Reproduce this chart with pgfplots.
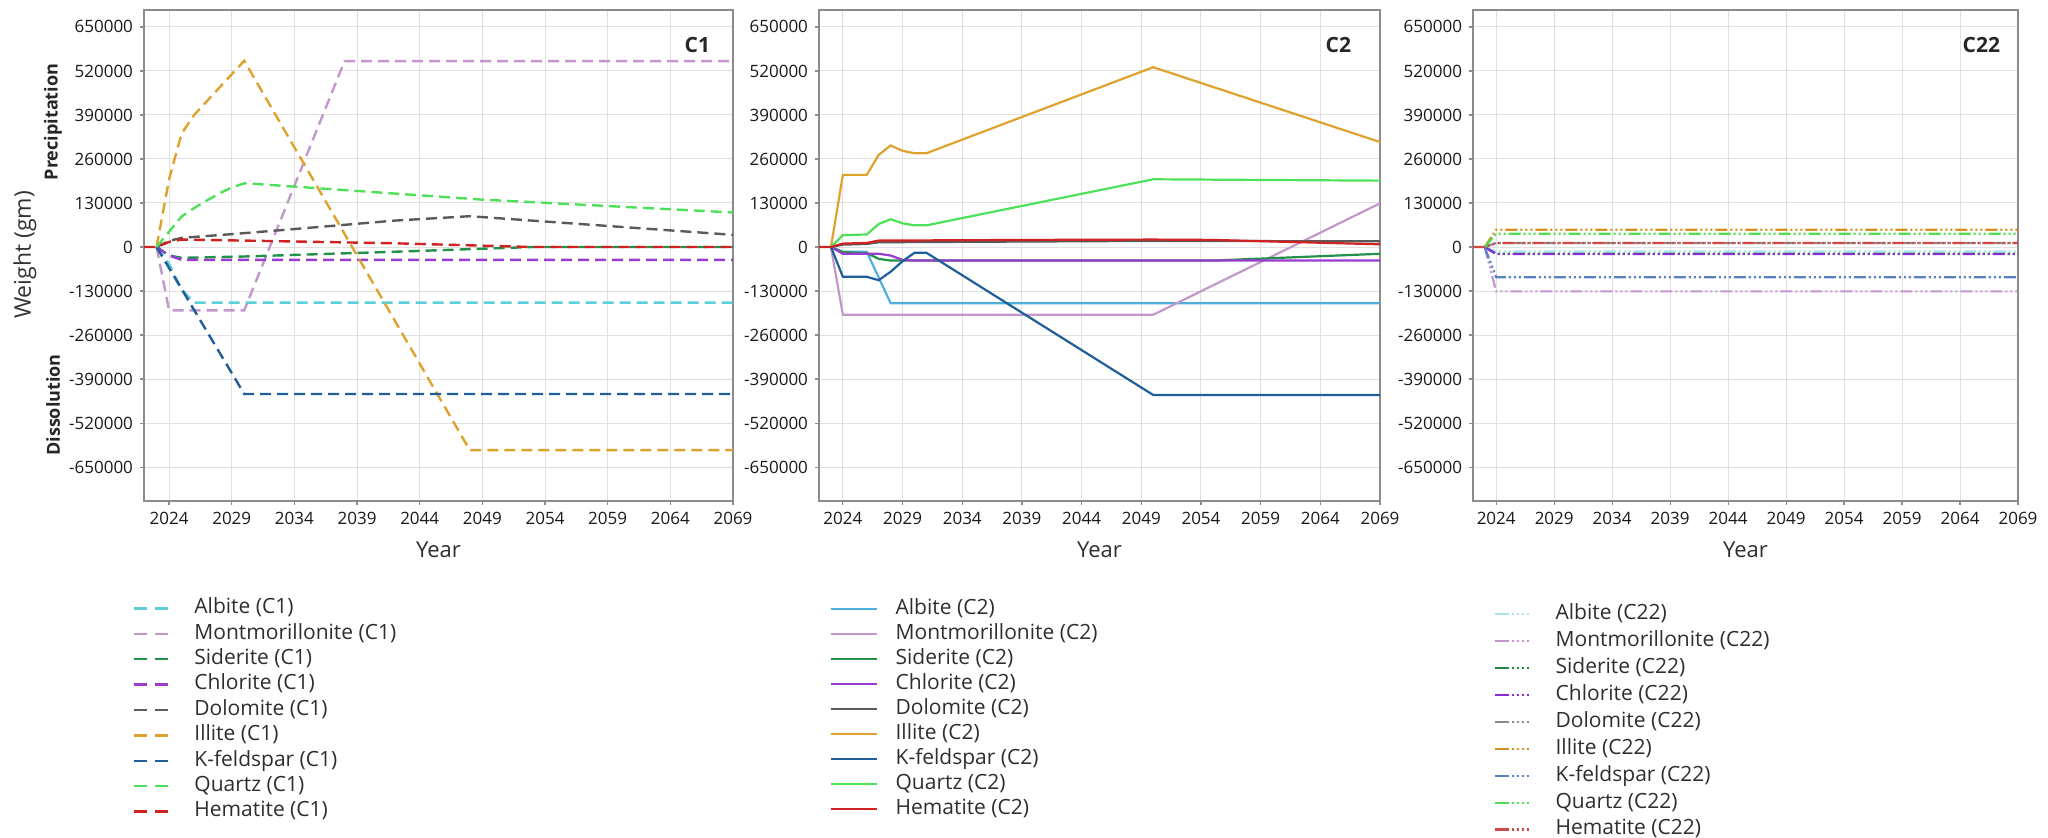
\documentclass[border=0pt]{standalone}
\usepackage{fontspec}
\setmainfont{Open Sans}
\usepackage{pgfplots}
\pgfplotsset{compat=1.18}

\definecolor{cAlb}{HTML}{5CCFD8}
\definecolor{cMon}{HTML}{C497CC}
\definecolor{cSid}{HTML}{22914A}
\definecolor{cChl}{HTML}{9B3CD0}
\definecolor{cDol}{HTML}{5A5A5A}
\definecolor{cIll}{HTML}{DFA22E}
\definecolor{cKfe}{HTML}{1F5E98}
\definecolor{cQtz}{HTML}{4FE05A}
\definecolor{cHem}{HTML}{D02222}
\definecolor{dAlb}{HTML}{A8E6EE}
\definecolor{dMon}{HTML}{C495CC}
\definecolor{dSid}{HTML}{1E8A3C}
\definecolor{dChl}{HTML}{8A2BD8}
\definecolor{dDol}{HTML}{8C8C8C}
\definecolor{dIll}{HTML}{D8901E}
\definecolor{dKfe}{HTML}{5A82C0}
\definecolor{dQtz}{HTML}{52DC52}
\definecolor{dHem}{HTML}{D04848}

\pgfplotsset{
  panel/.style={
    scale only axis, anchor=south west,
    height=245.5pt,
    xmin=2022, xmax=2069, ymin=-750000, ymax=700000,
    scaled x ticks=false, scaled y ticks=false,
    xtick={2024,2029,2034,2039,2044,2049,2054,2059,2064,2069},
    xticklabels={2024,2029,2034,2039,2044,2049,2054,2059,2064,2069},
    ytick={-650000,-520000,-390000,-260000,-130000,0,130000,260000,390000,520000,650000},
    yticklabels={-650000,-520000,-390000,-260000,-130000,0,130000,260000,390000,520000,650000},
    xtick pos=bottom, ytick pos=left,
    grid=major, major grid style={draw=black!12, line width=0.5pt},
    axis line style={draw=black!45, line width=0.7pt},
    tick align=outside, major tick length=2pt,
    tick style={draw=black!45, line width=0.6pt},
    ticklabel style={font=\fontsize{8.5}{10}\selectfont, text=black!90},
    xlabel={Year}, xlabel style={font=\fontsize{11}{13}\selectfont, text=black!82, yshift=-2pt},
    legend cell align=left,
    legend style={draw=none, fill=none, anchor=north west, at={(0,0)},
      font=\fontsize{10.5}{12}\selectfont, text=black!82, inner sep=0pt,
      nodes={inner sep=0pt, text height=7.6pt, text depth=2.2pt}},
  },
  dsh/.style={line width=1.2pt, dash pattern=on 5.5pt off 3pt},
  sol/.style={line width=1.1pt},
  ddd/.style={line width=1.1pt, dash pattern=on 6pt off 1.5pt on 1pt off 1.5pt on 1pt off 1.5pt on 1pt off 1.5pt},
}

\begin{document}
\begin{tikzpicture}
\useasboundingbox (0,0) rectangle (1024pt,419pt);

% ---------------- C1 ----------------
\begin{axis}[panel, at={(72pt,168.5pt)}, width=294.5pt,
  legend style={xshift=-6pt, yshift=-48.6pt, row sep=2.9pt, column sep=12.8pt},
  legend image code/.code={\draw[#1, dash pattern=on 6.5pt off 4pt] (0pt,0pt) -- (17pt,0pt);}]
\addplot[dsh, cAlb] coordinates {(2023,0)(2024,-50000)(2025,-125000)(2026,-164000)(2069,-164000)};
\addlegendentry{Albite (C1)}
\addplot[dsh, cMon] coordinates {(2023,0)(2024,-187000)(2030,-187000)(2038,549000)(2069,549000)};
\addlegendentry{Montmorillonite (C1)}
\addplot[dsh, cSid] coordinates {(2023,0)(2024,-25000)(2025,-32000)(2030,-28000)(2042,-14000)(2049,-5000)(2053,0)(2069,0)};
\addlegendentry{Siderite (C1)}
\addplot[dsh, cChl] coordinates {(2023,0)(2024,-25000)(2025,-38000)(2069,-38000)};
\addlegendentry{Chlorite (C1)}
\addplot[dsh, cDol] coordinates {(2023,0)(2024,18000)(2025,27000)(2029,38000)(2033,50000)(2042,78000)(2048,91000)(2069,36000)};
\addlegendentry{Dolomite (C1)}
\addplot[dsh, cIll] coordinates {(2023,0)(2024,200000)(2025,335000)(2026,390000)(2027,430000)(2028,470000)(2029,510000)(2030,550000)(2048,-600000)(2069,-600000)};
\addlegendentry{Illite (C1)}
\addplot[dsh, cKfe] coordinates {(2023,0)(2030,-434000)(2069,-434000)};
\addlegendentry{K-feldspar (C1)}
\addplot[dsh, cQtz] coordinates {(2023,0)(2024,45000)(2025,90000)(2026,115000)(2027,137000)(2028,158000)(2029,176000)(2030,188000)(2031,186000)(2049,140000)(2069,102000)};
\addlegendentry{Quartz (C1)}
\addplot[dsh, cHem] coordinates {(2022,0)(2023,0)(2024,15000)(2025,22000)(2030,19000)(2042,11000)(2049,4000)(2053,0)(2069,0)};
\addlegendentry{Hematite (C1)}
\node[anchor=east, font=\fontsize{10.5}{12}\selectfont\bfseries, text=black!85] at (rel axis cs:0.973,0.929) {C1};
\end{axis}

% ---------------- C2 ----------------
\begin{axis}[panel, at={(409.5pt,168.5pt)}, width=280.5pt,
  legend style={xshift=5pt, yshift=-49.1pt, row sep=2.7pt, column sep=9pt},
  legend image code/.code={\draw[#1] (0pt,0pt) -- (23pt,0pt);}]
\addplot[sol, cAlb!85!blue] coordinates {(2023,0)(2024,-14000)(2026,-14000)(2027,-90000)(2028,-166000)(2069,-166000)};
\addlegendentry{Albite (C2)}
\addplot[sol, cMon] coordinates {(2023,0)(2024,-200000)(2050,-200000)(2069,129000)};
\addlegendentry{Montmorillonite (C2)}
\addplot[sol, cSid] coordinates {(2023,0)(2024,-15000)(2026,-18000)(2027,-35000)(2028,-40000)(2055,-40000)(2069,-20000)};
\addlegendentry{Siderite (C2)}
\addplot[sol, cChl] coordinates {(2023,0)(2024,-20000)(2027,-20000)(2028,-25000)(2029,-38000)(2030,-40000)(2069,-40000)};
\addlegendentry{Chlorite (C2)}
\addplot[sol, cDol] coordinates {(2023,0)(2024,7000)(2026,9000)(2027,14000)(2050,18000)(2069,17000)};
\addlegendentry{Dolomite (C2)}
\addplot[sol, cIll] coordinates {(2023,0)(2024,213000)(2026,213000)(2027,272000)(2028,300000)(2029,284000)(2030,277000)(2031,277000)(2050,531000)(2069,310000)};
\addlegendentry{Illite (C2)}
\addplot[sol, cKfe] coordinates {(2023,0)(2024,-88000)(2026,-88000)(2027,-98000)(2028,-73000)(2029,-42000)(2030,-17000)(2031,-17000)(2050,-437000)(2069,-437000)};
\addlegendentry{K-feldspar (C2)}
\addplot[sol, cQtz] coordinates {(2023,0)(2024,35000)(2026,37000)(2027,68000)(2028,82000)(2029,70000)(2030,64000)(2031,64000)(2050,200000)(2069,196000)};
\addlegendentry{Quartz (C2)}
\addplot[sol, cHem] coordinates {(2022,0)(2023,0)(2024,10000)(2026,12000)(2027,19000)(2040,21000)(2050,22000)(2055,21000)(2069,8000)};
\addlegendentry{Hematite (C2)}
\node[anchor=east, font=\fontsize{10.5}{12}\selectfont\bfseries, text=black!85] at (rel axis cs:0.961,0.929) {C2};
\end{axis}

% ---------------- C22 ----------------
\begin{axis}[panel, at={(736.5pt,168.5pt)}, width=272.5pt,
  legend style={xshift=10pt, yshift=-51.6pt, row sep=3.65pt, column sep=6.5pt},
  legend image code/.code={\draw[#1, dash pattern=on 7pt off 1.5pt on 1pt off 1.5pt on 1pt off 1.5pt on 1pt off 1.5pt on 1pt off 20pt] (0pt,0pt) -- (23.5pt,0pt);}]
\addplot[ddd, dAlb] coordinates {(2023,0)(2024,-13000)(2069,-13000)};
\addlegendentry{Albite (C22)}
\addplot[ddd, dMon] coordinates {(2023,0)(2024,-131000)(2069,-131000)};
\addlegendentry{Montmorillonite (C22)}
\addplot[ddd, dSid] coordinates {(2023,0)(2024,-20000)(2069,-20000)};
\addlegendentry{Siderite (C22)}
\addplot[ddd, dChl] coordinates {(2023,0)(2024,-21000)(2069,-21000)};
\addlegendentry{Chlorite (C22)}
\addplot[ddd, dDol] coordinates {(2023,0)(2024,12000)(2069,12000)};
\addlegendentry{Dolomite (C22)}
\addplot[ddd, dIll] coordinates {(2023,0)(2024,51000)(2069,51000)};
\addlegendentry{Illite (C22)}
\addplot[ddd, dKfe] coordinates {(2023,0)(2024,-89000)(2069,-89000)};
\addlegendentry{K-feldspar (C22)}
\addplot[ddd, dQtz] coordinates {(2023,0)(2024,39000)(2069,39000)};
\addlegendentry{Quartz (C22)}
\addplot[ddd, dHem] coordinates {(2022,0)(2023,0)(2024,12000)(2069,12000)};
\addlegendentry{Hematite (C22)}
\node[anchor=east, font=\fontsize{10.5}{12}\selectfont\bfseries, text=black!85] at (rel axis cs:0.98,0.929) {C22};
\end{axis}

% y-axis labels
\node[rotate=90, font=\fontsize{11.5}{13}\selectfont, text=black!80] at (12.5pt,291.5pt) {Weight (gm)};
\node[rotate=90, font=\fontsize{9}{11}\selectfont\bfseries, text=black!85] at (26.5pt,358pt) {Precipitation};
\node[rotate=90, font=\fontsize{9}{11}\selectfont\bfseries, text=black!85] at (26.5pt,216.5pt) {Dissolution};
\end{tikzpicture}
\end{document}
